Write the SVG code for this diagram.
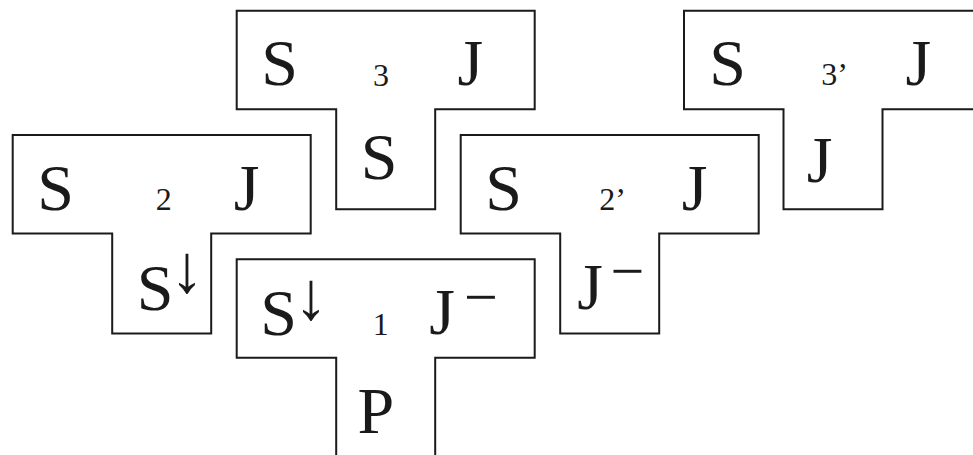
<svg xmlns="http://www.w3.org/2000/svg" xmlns:xlink="http://www.w3.org/1999/xlink" width="973" height="455" viewBox="0 0 973 455">
<style>
.t{fill:#fff;stroke:#1a1a1a;stroke-width:2;stroke-linejoin:miter}
text{font-family:"Liberation Serif","Times New Roman",serif;fill:#1a1a1a;text-anchor:middle}
.big{font-size:66px}
.sub{font-size:32px}
.arr{font-size:68px}
.mn{font-size:60px}
</style>
<defs>
<path id="tee" class="t" d="M0,0 H298 V98.5 H198.5 V198.5 H99.5 V98.5 H0 Z"/>
</defs>
<rect width="973" height="455" fill="#fff"/>
<g id="connectors"></g>
<g id="t3">
<use xlink:href="#tee" href="#tee" transform="translate(236.7,10.7)"/>
<text class="big" x="279.5" y="85">S</text>
<text class="sub" x="381" y="86">3</text>
<text class="big" x="470.3" y="85">J</text>
<text class="big" x="379" y="179">S</text>
</g>
<g id="t3p">
<use xlink:href="#tee" href="#tee" transform="translate(684,10.7)"/>
<text class="big" x="727.7" y="85">S</text>
<text class="sub" x="834.5" y="85">3’</text>
<text class="big" x="918.3" y="85">J</text>
<text class="big" x="819.7" y="182">J</text>
</g>
<g id="t2">
<use xlink:href="#tee" href="#tee" transform="translate(12.7,135)"/>
<text class="big" x="55.5" y="210">S</text>
<text class="sub" x="163.7" y="210">2</text>
<text class="big" x="246.5" y="210">J</text>
<text class="big" x="155" y="310">S<tspan class="arr" x="186.7" y="292">↓</tspan></text>
</g>
<g id="t2p">
<use xlink:href="#tee" href="#tee" transform="translate(460.7,135)"/>
<text class="big" x="503.7" y="210">S</text>
<text class="sub" x="612.5" y="210">2’</text>
<text class="big" x="694.5" y="210">J</text>
<text class="big" x="590" y="309">J<tspan class="mn" x="627.5" y="291">−</tspan></text>
</g>
<g id="t1">
<use xlink:href="#tee" href="#tee" transform="translate(236.7,259.3)"/>
<text class="big" x="278.7" y="335">S<tspan class="arr" x="310.7" y="319">↓</tspan></text>
<text class="sub" x="380.7" y="335">1</text>
<text class="big" x="442" y="334">J<tspan class="mn" x="481" y="317">−</tspan></text>
<text class="big" x="375.8" y="433">P</text>
</g>
</svg>
